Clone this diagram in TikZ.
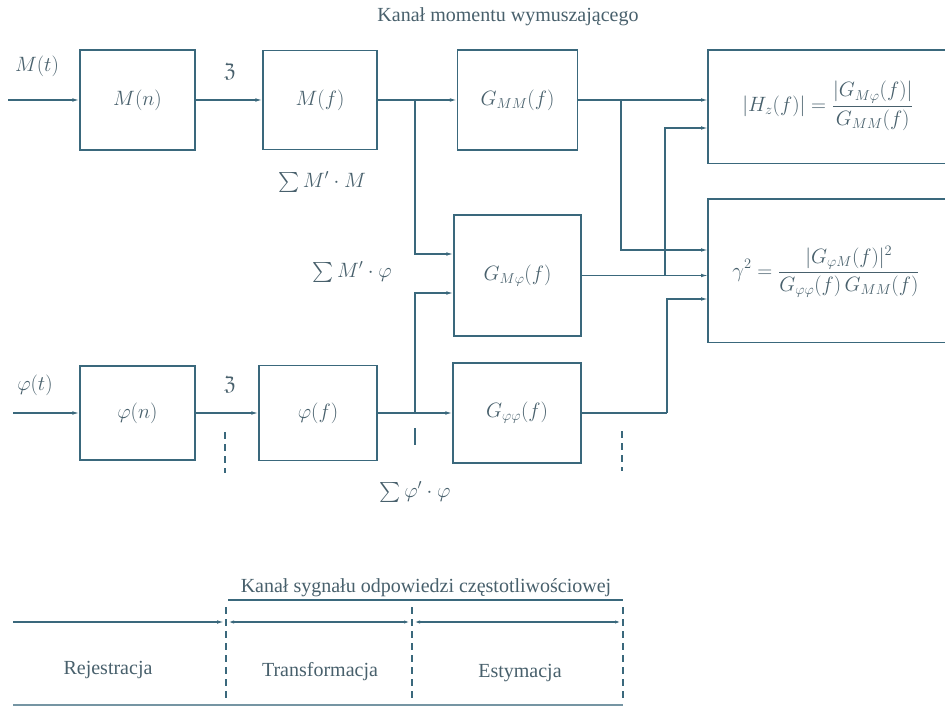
\documentclass[tikz,border=0pt]{standalone}
\usepackage{amssymb}
\usepackage{fontspec}
\setmainfont{Liberation Serif}
\usetikzlibrary{arrows.meta}
\definecolor{ink}{RGB}{58,104,124}
\definecolor{txt}{RGB}{72,96,108}
\tikzset{
 blk/.style={draw=ink, line width=1.3pt, inner sep=0pt, text=txt, font=\fontsize{20.5}{24}\selectfont},
 lbl/.style={text=txt, inner sep=0pt, font=\fontsize{20}{24}\selectfont},
 frm/.style={text=txt, inner sep=0pt, font=\fontsize{22}{26}\selectfont},
 arr/.style={draw=ink, line width=1.2pt, -{Latex[length=7pt,width=3.6pt]}},
 darr/.style={draw=ink, line width=1.2pt, {Latex[length=6pt,width=3.2pt]}-{Latex[length=6pt,width=3.2pt]}},
 wire/.style={draw=ink, line width=1.2pt},
 dtick/.style={draw=ink, line width=1.1pt, dash pattern=on 7pt off 5pt},
 stick/.style={draw=ink, line width=1.1pt},
}
\begin{document}
\begin{tikzpicture}[x=1pt,y=-1pt]
\useasboundingbox (0,0) rectangle (945,708);
\fill[white] (0,0) rectangle (945,708);

\node[lbl] (title) at (508,17) {Kanał momentu wymuszającego};

% blocks
\node[blk, minimum width=115pt, minimum height=100pt] (Mn) at (137.5,100) {$M(n)$};
\node[blk, minimum width=114pt, minimum height=99pt] (Mf) at (320,100) {$M(f)$};
\node[blk, minimum width=120pt, minimum height=100pt] (GMM) at (517.5,100) {$G_{MM}(f)$};
\node[blk, minimum width=127pt, minimum height=121pt] (GMp) at (517.5,275.5) {$G_{M\varphi}(f)$};
\node[blk, minimum width=115pt, minimum height=94pt] (Pn) at (137.5,413) {$\varphi(n)$};
\node[blk, minimum width=118pt, minimum height=95pt] (Pf) at (318,413) {$\varphi(f)$};
\node[blk, minimum width=128pt, minimum height=100pt] (Gpp) at (517,413) {$G_{\varphi\varphi}(f)$};

% result boxes (open to the right)
\node[minimum width=237pt, minimum height=113pt, anchor=north west, inner sep=0pt] (H) at (708,50) {};
\draw[wire] (H.north east) -- (H.north west) -- (H.south west) -- (H.south east);
\node[frm] (Htxt) at (828,106) {$\displaystyle |H_z(f)| = \frac{|G_{M\varphi}(f)|}{G_{MM}(f)}$};

\node[minimum width=237pt, minimum height=143pt, anchor=north west, inner sep=0pt] (G) at (708,199) {};
\draw[wire] (G.north east) -- (G.north west) -- (G.south west) -- (G.south east);
\node[frm] (Gtxt) at (826,272) {$\displaystyle \gamma^2 = \frac{|G_{\varphi M}(f)|^2}{G_{\varphi\varphi}(f)\,G_{MM}(f)}$};

% labels
\node[lbl] (Mt) at (37,66) {$M(t)$};
\node[lbl] (Pt) at (35,385) {$\varphi(t)$};
\node[lbl] (F1) at (230,72) {$\mathfrak{Z}$};
\node[lbl] (F2) at (230,385) {$\mathfrak{Z}$};
\node[lbl] (S1) at (322,182) {$\sum M'\cdot M$};
\node[lbl] (S2) at (352,272) {$\sum M'\cdot\varphi$};
\node[lbl] (S3) at (415,492) {$\sum\varphi'\cdot\varphi$};

% helper coordinates
\coordinate (MinS) at (8,100);
\coordinate (PinS) at (13,413);
\coordinate (bMf) at (415,100);
\coordinate (bGMM) at (621,100);
\coordinate (bGMp) at (665,275.5);
\coordinate (bPf) at (415,413);
\coordinate (bGpp) at (667,413);
\coordinate (y128) at (0,128);
\coordinate (y250) at (0,250);
\coordinate (y254) at (0,254);
\coordinate (y293) at (0,293);
\coordinate (y299) at (0,299);

% M channel
\draw[arr] (MinS) -- (Mn);
\draw[arr] (Mn) -- (Mf);
\draw[arr] (Mf) -- (GMM);
\draw[arr] (bMf) |- (GMp.west |- y254);
\draw[arr] (GMM.east) -- (H.west |- GMM.east);
\draw[arr] (bGMM) |- (G.west |- y250);
\draw[arr] (GMp.east) -- (G.west |- GMp.east);
\draw[arr] (bGMp) |- (H.west |- y128);

% phi channel
\draw[arr] (PinS) -- (Pn);
\draw[arr] (Pn) -- (Pf);
\draw[arr] (Pf) -- (Gpp);
\draw[arr] (bPf) |- (GMp.west |- y293);
\draw[wire] (Gpp.east) -- (bGpp);
\draw[arr] (bGpp) |- (G.west |- y299);

% ticks
\coordinate (t1a) at (225,432); \coordinate (t1b) at (225,473);
\coordinate (t2a) at (415,428); \coordinate (t2b) at (415,445);
\coordinate (t3a) at (622,431); \coordinate (t3b) at (622,471);
\draw[dtick] (t1a) -- (t1b);
\draw[stick] (t2a) -- (t2b);
\draw[dtick] (t3a) -- (t3b);

% bottom legend
\node[lbl] (ch) at (426,588) {Kanał sygnału odpowiedzi częstotliwościowej};
\coordinate (u1) at (228,600); \coordinate (u2) at (623,600);
\draw[wire] (u1) -- (u2);
\coordinate (d1a) at (226,607); \coordinate (d1b) at (226,700);
\coordinate (d2a) at (412,607); \coordinate (d2b) at (412,700);
\coordinate (d3a) at (623,607); \coordinate (d3b) at (623,700);
\draw[dtick] (d1a) -- (d1b);
\draw[dtick] (d2a) -- (d2b);
\draw[dtick] (d3a) -- (d3b);
\coordinate (h0) at (13,622); \coordinate (h1) at (224,622);
\coordinate (h2) at (228,622); \coordinate (h3) at (410,622);
\coordinate (h4) at (414,622); \coordinate (h5) at (621,622);
\draw[arr] (h0) -- (h1);
\draw[darr] (h2) -- (h3);
\draw[darr] (h4) -- (h5);
\node[lbl] (R) at (108,670) {Rejestracja};
\node[lbl] (T) at (320,672) {Transformacja};
\node[lbl] (E) at (520,673) {Estymacja};
\coordinate (bl1) at (13,705); \coordinate (bl2) at (623,705);
\draw[draw=ink!70, line width=1.6pt] (bl1) -- (bl2);
\end{tikzpicture}
\end{document}
